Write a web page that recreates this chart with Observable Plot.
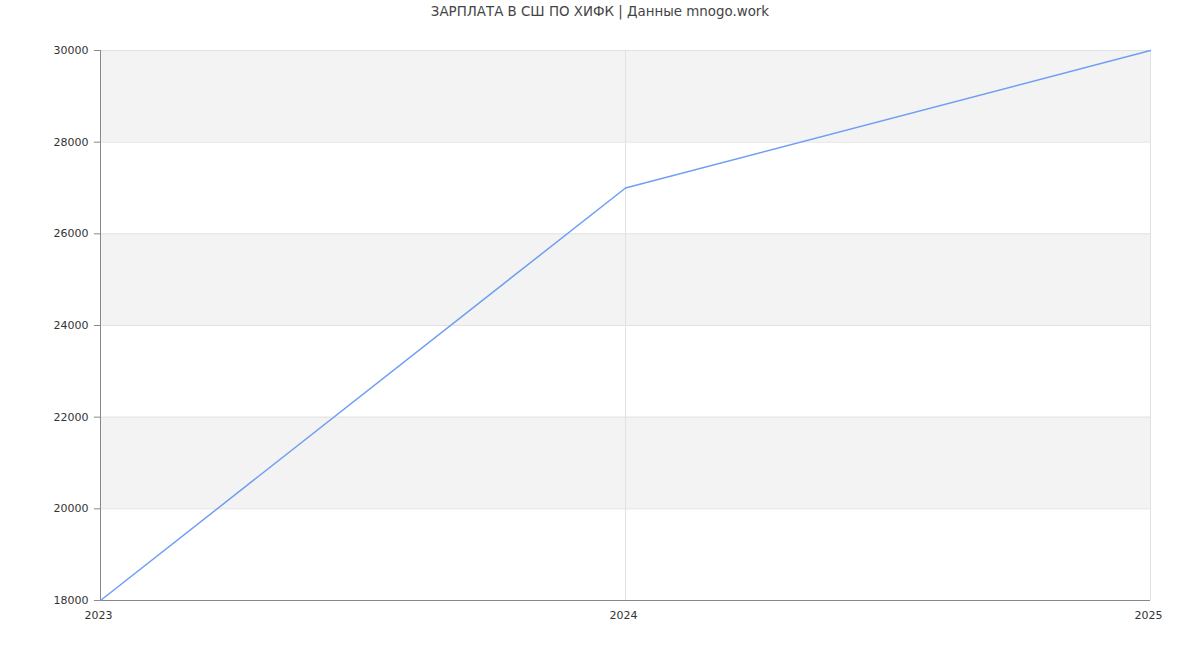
<!DOCTYPE html>
<html>
<head>
<meta charset="utf-8">
<script src="https://cdn.jsdelivr.net/npm/d3@7"></script>
<script src="https://cdn.jsdelivr.net/npm/@observablehq/plot@0.6"></script>
<style>
  html, body { margin: 0; padding: 0; background: #fff; }
  #title { height: 25px; line-height: 24px; text-align: center; font-family: "DejaVu Sans", sans-serif; font-size: 13.4px; color: #444; }
  #chart svg { display: block; }
</style>
</head>
<body>
<div id="title">ЗАРПЛАТА В СШ ПО ХИФК | Данные mnogo.work</div>
<div id="chart"></div>
<script>
const years = [2023, 2024, 2025];
const salaries = [18000, 27000, 30000];
const yTicks = [18000, 20000, 22000, 24000, 26000, 28000, 30000];
const bandStarts = [20000, 24000, 28000];
const bandSize = 2000;

const data = years.map((y, i) => ({year: y, salary: salaries[i]}));
const bands = bandStarts.map(b => ({y1: b, y2: b + bandSize}));

const chart = Plot.plot({
  width: 1200,
  height: 625,
  marginTop: 25,
  marginBottom: 50,
  marginLeft: 100,
  marginRight: 50,
  style: {fontFamily: "DejaVu Sans, sans-serif", fontSize: "11px", color: "#333", background: "#fff"},
  x: {domain: [2023, 2025], ticks: years, tickFormat: "d", label: null},
  y: {domain: [18000, 30000], ticks: yTicks, tickFormat: d => String(d), label: null},
  marks: [
    Plot.rect(bands, {x1: 2023, x2: 2025, y1: "y1", y2: "y2", fill: "#f3f3f3"}),
    Plot.ruleY(yTicks, {stroke: "#e2e2e2", strokeWidth: 1}),
    Plot.ruleX(years, {stroke: "#e2e2e2", strokeWidth: 1}),
    Plot.ruleX([2023], {stroke: "#888", strokeWidth: 1}),
    Plot.ruleY([18000], {stroke: "#888", strokeWidth: 1}),
    Plot.axisY({ticks: yTicks, tickSize: 6, tickPadding: 6, stroke: "#888", tickFormat: d => String(d), fill: "#333", label: null}),
    Plot.axisX({ticks: years, tickSize: 0, tickPadding: 11, dx: -2, tickFormat: "d", fill: "#333", label: null}),
    Plot.line(data, {x: "year", y: "salary", stroke: "#6f9ef2", strokeWidth: 1.5})
  ]
});
document.getElementById("chart").appendChild(chart);
</script>
</body>
</html>
